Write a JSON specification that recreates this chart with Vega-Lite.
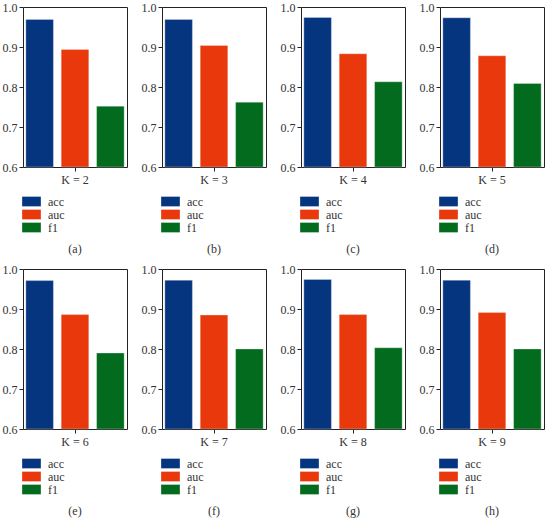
{
  "$schema": "https://vega.github.io/schema/vega-lite/v6.json",
  "padding": {"left": 1, "top": 0, "right": 0, "bottom": 0},
  "background": "white",
  "datasets": {
    "scores": [
      {"panel": "a", "K": "K = 2", "metric": "acc", "value": 0.969},
      {"panel": "a", "K": "K = 2", "metric": "auc", "value": 0.894},
      {"panel": "a", "K": "K = 2", "metric": "f1", "value": 0.752},
      {"panel": "b", "K": "K = 3", "metric": "acc", "value": 0.969},
      {"panel": "b", "K": "K = 3", "metric": "auc", "value": 0.904},
      {"panel": "b", "K": "K = 3", "metric": "f1", "value": 0.762},
      {"panel": "c", "K": "K = 4", "metric": "acc", "value": 0.974},
      {"panel": "c", "K": "K = 4", "metric": "auc", "value": 0.883},
      {"panel": "c", "K": "K = 4", "metric": "f1", "value": 0.813},
      {"panel": "d", "K": "K = 5", "metric": "acc", "value": 0.973},
      {"panel": "d", "K": "K = 5", "metric": "auc", "value": 0.878},
      {"panel": "d", "K": "K = 5", "metric": "f1", "value": 0.809},
      {"panel": "e", "K": "K = 6", "metric": "acc", "value": 0.971},
      {"panel": "e", "K": "K = 6", "metric": "auc", "value": 0.886},
      {"panel": "e", "K": "K = 6", "metric": "f1", "value": 0.790},
      {"panel": "f", "K": "K = 7", "metric": "acc", "value": 0.972},
      {"panel": "f", "K": "K = 7", "metric": "auc", "value": 0.885},
      {"panel": "f", "K": "K = 7", "metric": "f1", "value": 0.800},
      {"panel": "g", "K": "K = 8", "metric": "acc", "value": 0.974},
      {"panel": "g", "K": "K = 8", "metric": "auc", "value": 0.886},
      {"panel": "g", "K": "K = 8", "metric": "f1", "value": 0.803},
      {"panel": "h", "K": "K = 9", "metric": "acc", "value": 0.972},
      {"panel": "h", "K": "K = 9", "metric": "auc", "value": 0.891},
      {"panel": "h", "K": "K = 9", "metric": "f1", "value": 0.800}
    ]
  },
  "columns": 4,
  "spacing": {"column": 12, "row": 6},
  "resolve": {"scale": {"x": "independent", "xOffset": "independent", "y": "independent", "color": "independent"}, "legend": {"color": "independent"}},
  "concat": [
    {"title": "(a)", "width": 104, "height": 160, "data": {"name": "scores"}, "transform": [{"filter": "datum.panel === 'a'"}], "mark": {"type": "bar"},
     "encoding": {"x": {"field": "K", "type": "nominal", "scale": {"paddingInner": 0, "paddingOuter": 0}}, "xOffset": {"field": "metric", "type": "nominal", "scale": {"paddingInner": 0.22, "paddingOuter": 0.08}}, "y": {"field": "value", "type": "quantitative", "scale": {"domain": [0.6, 1.0], "zero": false, "clamp": true}}, "color": {"field": "metric", "type": "nominal", "scale": {"domain": ["acc", "auc", "f1"], "range": ["#063580", "#e8380c", "#036b1e"]}}}},
    {"title": "(b)", "width": 104, "height": 160, "data": {"name": "scores"}, "transform": [{"filter": "datum.panel === 'b'"}], "mark": {"type": "bar"},
     "encoding": {"x": {"field": "K", "type": "nominal", "scale": {"paddingInner": 0, "paddingOuter": 0}}, "xOffset": {"field": "metric", "type": "nominal", "scale": {"paddingInner": 0.22, "paddingOuter": 0.08}}, "y": {"field": "value", "type": "quantitative", "scale": {"domain": [0.6, 1.0], "zero": false, "clamp": true}}, "color": {"field": "metric", "type": "nominal", "scale": {"domain": ["acc", "auc", "f1"], "range": ["#063580", "#e8380c", "#036b1e"]}}}},
    {"title": "(c)", "width": 104, "height": 160, "data": {"name": "scores"}, "transform": [{"filter": "datum.panel === 'c'"}], "mark": {"type": "bar"},
     "encoding": {"x": {"field": "K", "type": "nominal", "scale": {"paddingInner": 0, "paddingOuter": 0}}, "xOffset": {"field": "metric", "type": "nominal", "scale": {"paddingInner": 0.22, "paddingOuter": 0.08}}, "y": {"field": "value", "type": "quantitative", "scale": {"domain": [0.6, 1.0], "zero": false, "clamp": true}}, "color": {"field": "metric", "type": "nominal", "scale": {"domain": ["acc", "auc", "f1"], "range": ["#063580", "#e8380c", "#036b1e"]}}}},
    {"title": "(d)", "width": 104, "height": 160, "data": {"name": "scores"}, "transform": [{"filter": "datum.panel === 'd'"}], "mark": {"type": "bar"},
     "encoding": {"x": {"field": "K", "type": "nominal", "scale": {"paddingInner": 0, "paddingOuter": 0}}, "xOffset": {"field": "metric", "type": "nominal", "scale": {"paddingInner": 0.22, "paddingOuter": 0.08}}, "y": {"field": "value", "type": "quantitative", "scale": {"domain": [0.6, 1.0], "zero": false, "clamp": true}}, "color": {"field": "metric", "type": "nominal", "scale": {"domain": ["acc", "auc", "f1"], "range": ["#063580", "#e8380c", "#036b1e"]}}}},
    {"title": "(e)", "width": 104, "height": 160, "data": {"name": "scores"}, "transform": [{"filter": "datum.panel === 'e'"}], "mark": {"type": "bar"},
     "encoding": {"x": {"field": "K", "type": "nominal", "scale": {"paddingInner": 0, "paddingOuter": 0}}, "xOffset": {"field": "metric", "type": "nominal", "scale": {"paddingInner": 0.22, "paddingOuter": 0.08}}, "y": {"field": "value", "type": "quantitative", "scale": {"domain": [0.6, 1.0], "zero": false, "clamp": true}}, "color": {"field": "metric", "type": "nominal", "scale": {"domain": ["acc", "auc", "f1"], "range": ["#063580", "#e8380c", "#036b1e"]}}}},
    {"title": "(f)", "width": 104, "height": 160, "data": {"name": "scores"}, "transform": [{"filter": "datum.panel === 'f'"}], "mark": {"type": "bar"},
     "encoding": {"x": {"field": "K", "type": "nominal", "scale": {"paddingInner": 0, "paddingOuter": 0}}, "xOffset": {"field": "metric", "type": "nominal", "scale": {"paddingInner": 0.22, "paddingOuter": 0.08}}, "y": {"field": "value", "type": "quantitative", "scale": {"domain": [0.6, 1.0], "zero": false, "clamp": true}}, "color": {"field": "metric", "type": "nominal", "scale": {"domain": ["acc", "auc", "f1"], "range": ["#063580", "#e8380c", "#036b1e"]}}}},
    {"title": "(g)", "width": 104, "height": 160, "data": {"name": "scores"}, "transform": [{"filter": "datum.panel === 'g'"}], "mark": {"type": "bar"},
     "encoding": {"x": {"field": "K", "type": "nominal", "scale": {"paddingInner": 0, "paddingOuter": 0}}, "xOffset": {"field": "metric", "type": "nominal", "scale": {"paddingInner": 0.22, "paddingOuter": 0.08}}, "y": {"field": "value", "type": "quantitative", "scale": {"domain": [0.6, 1.0], "zero": false, "clamp": true}}, "color": {"field": "metric", "type": "nominal", "scale": {"domain": ["acc", "auc", "f1"], "range": ["#063580", "#e8380c", "#036b1e"]}}}},
    {"title": "(h)", "width": 104, "height": 160, "data": {"name": "scores"}, "transform": [{"filter": "datum.panel === 'h'"}], "mark": {"type": "bar"},
     "encoding": {"x": {"field": "K", "type": "nominal", "scale": {"paddingInner": 0, "paddingOuter": 0}}, "xOffset": {"field": "metric", "type": "nominal", "scale": {"paddingInner": 0.22, "paddingOuter": 0.08}}, "y": {"field": "value", "type": "quantitative", "scale": {"domain": [0.6, 1.0], "zero": false, "clamp": true}}, "color": {"field": "metric", "type": "nominal", "scale": {"domain": ["acc", "auc", "f1"], "range": ["#063580", "#e8380c", "#036b1e"]}}}}
  ],
  "config": {
    "view": {"stroke": "#222222", "strokeWidth": 1},
    "bar": {"stroke": "#ffffff", "strokeWidth": 0.6, "strokeOpacity": 0.5},
    "axis": {"labelFont": "Liberation Serif", "titleFont": "Liberation Serif", "labelColor": "#333333", "tickColor": "#222222", "domainColor": "#222222", "grid": false, "title": null, "tickSize": 4},
    "axisX": {"labelAngle": 0, "labelFontSize": 12, "labelPadding": 3, "domain": false},
    "axisY": {"labelFontSize": 12, "values": [0.6, 0.7, 0.8, 0.9, 1.0], "format": ".1f", "labelPadding": 2, "domain": false},
    "legend": {"orient": "bottom", "direction": "vertical", "title": null, "labelFont": "Liberation Serif", "labelFontSize": 12, "labelColor": "#333333", "labelLimit": 100, "symbolType": "M-1.58,-0.83H1.58V0.83H-1.58Z", "symbolSize": 144, "symbolStrokeWidth": 0, "symbolOpacity": 1, "rowPadding": 0, "labelOffset": 10, "offset": 8, "padding": 2},
    "title": {"orient": "bottom", "anchor": "middle", "font": "Liberation Serif", "fontSize": 12, "fontWeight": "normal", "color": "#333333", "offset": 8}
  }
}
